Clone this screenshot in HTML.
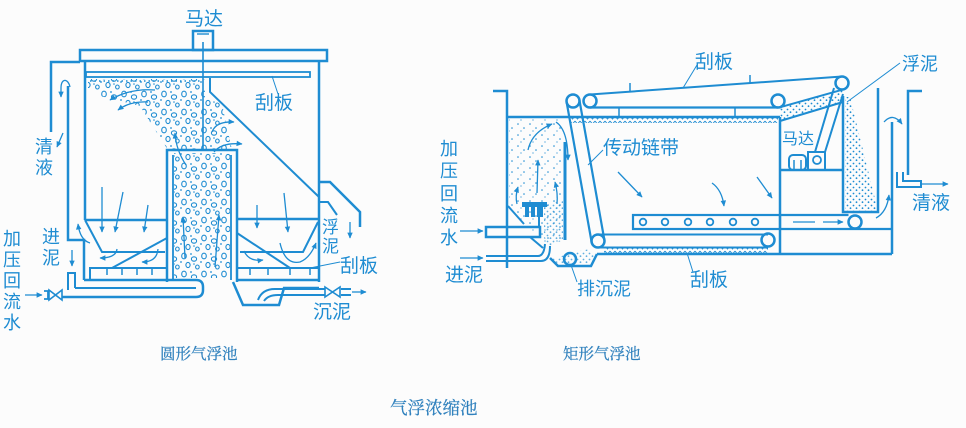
<!DOCTYPE html>
<html><head><meta charset="utf-8">
<style>
html,body{margin:0;padding:0;background:#fcfcfc;}
svg{display:block}
text{font-family:"Liberation Sans","Noto Sans CJK SC",sans-serif;fill:#1e8cd2}
text.cap{font-family:"Liberation Serif","Noto Serif CJK SC",serif;fill:#2f80bd;stroke:#2f80bd;stroke-width:0.25}
</style></head><body>
<svg width="966" height="428" viewBox="0 0 966 428" xmlns="http://www.w3.org/2000/svg">
<defs>
<marker id="ah" viewBox="0 0 10 10" refX="9" refY="5" markerWidth="7" markerHeight="6" orient="auto" markerUnits="userSpaceOnUse"><path d="M0,0.5 L10,5 L0,9.5 z" fill="#1e8cd2"/></marker>
<pattern id="bub" width="20" height="18" patternUnits="userSpaceOnUse">
<g fill="none" stroke="#1e8cd2" stroke-width="1.1">
<ellipse cx="4" cy="4" rx="2.3" ry="2.8"/>
<ellipse cx="14" cy="7" rx="2.6" ry="2.2"/>
<ellipse cx="8" cy="13" rx="2.1" ry="2.6"/>
<ellipse cx="17.4" cy="15" rx="1.8" ry="2"/>
</g>
<g fill="#1e8cd2"><circle cx="11" cy="2" r="0.9"/><circle cx="1" cy="10" r="0.9"/><circle cx="14" cy="12" r="0.8"/></g>
</pattern>
<pattern id="spk" width="12" height="11" patternUnits="userSpaceOnUse">
<g fill="#1e8cd2"><circle cx="2" cy="3" r="0.8"/><circle cx="8" cy="7" r="0.8"/><circle cx="5" cy="10" r="0.6"/></g>
</pattern>
<pattern id="dns" width="6" height="6" patternUnits="userSpaceOnUse">
<g fill="#1e8cd2"><circle cx="1.5" cy="1.5" r="0.9"/><circle cx="4.5" cy="4.2" r="0.9"/></g>
</pattern>
<pattern id="zz" width="5" height="5" patternUnits="userSpaceOnUse">
<path d="M0,1 L2.5,4 L5,1" fill="none" stroke="#1e8cd2" stroke-width="0.9"/>
</pattern>
</defs>

<rect width="966" height="428" fill="#fcfcfc"/>

<!-- ============ LEFT: circular tank ============ -->
<polygon points="88,79 205,79 205,98 222,104 232,150 168,150 152,125 140,106 100,96 88,88" fill="url(#bub)"/>
<rect x="174" y="153" width="56" height="125" fill="url(#bub)"/>
<line x1="90" y1="81" x2="200" y2="81" stroke="#1e8cd2" stroke-width="1.6" stroke-dasharray="1.5 3"/>

<g fill="none" stroke="#1e8cd2" stroke-width="2.5">
<rect x="193" y="31" width="20" height="19"/>
<line x1="197" y1="34" x2="209" y2="34" stroke-width="1.4"/>
<rect x="80" y="50" width="247" height="11"/>
<rect x="86" y="72" width="224" height="5" stroke-width="1.8"/>
<line x1="203" y1="42" x2="203" y2="150" stroke-width="1.6"/>
<path d="M80,62 H51 V132"/>
<path d="M68,86 V240 H84 V280"/>
<path d="M85,61 V220"/>
<path d="M319,61 V282"/>
<path d="M210,78 V92 L319,197" stroke-width="2"/>
<path d="M319,182 H330 L360,212 V227"/>
<path d="M319,202 H328 L337,215" stroke-width="2"/>
<path d="M167,282 V150 H237 V282"/>
<path d="M173,155 V280 M231,155 V280" stroke-width="1.8"/>
<path d="M85,220 H167"/>
<path d="M85,220 L102,252 H165" stroke-width="2"/>
<path d="M112,268 L167,238" stroke-width="2"/>
<path d="M90,280 V268 H167" stroke-width="2"/>
<path d="M107,268 V275 M122,268 V275 M137,268 V275 M152,268 V275" stroke-width="1.5"/>
<path d="M237,219 H319"/>
<path d="M240,252 H303 L318,222" stroke-width="2"/>
<path d="M237,233 L290,268" stroke-width="2"/>
<path d="M237,268 H319" stroke-width="2"/>
<path d="M250,268 V275 M268,268 V275 M290,268 V275 M310,268 V275" stroke-width="1.5"/>
<path d="M237,280 H319"/>
<path d="M84,280 H196 Q203,280 203,287 V290 Q203,297 196,297 H62"/>
<path d="M75,288 H196" stroke-width="2"/>
<path d="M68,290 V273 H75 V288" stroke-width="2"/>
<path d="M233,282 L243,305 H279 L284,288 H319"/>
<path d="M258,300 Q262,289 275,289 H325" stroke-width="2"/>
<path d="M264,301 Q268,295 278,295 H325" stroke-width="2"/>
<path d="M341,289 H351 M341,295 H351" stroke-width="2"/>
<path d="M44,291 H48 V299 H44" stroke-width="1.8"/>
<path d="M49,290 L62,300 L62,290 L49,300 Z" stroke-width="1.6"/>
<path d="M325,287 L340,297 L340,287 L325,297 Z" stroke-width="1.6"/>
</g>

<g fill="none" stroke="#1e8cd2" stroke-width="1.3" marker-end="url(#ah)">
<path d="M70,87 C68,78 61,78 61,88 L61,97"/>
<path d="M63,133 L57,147"/>
<path d="M155,90 Q130,88 110,100"/>
<path d="M148,102 Q130,101 118,110"/>
<path d="M186,165 Q176,150 175,133"/>
<path d="M212,132 Q216,121 234,122"/>
<path d="M214,152 Q222,142 242,144"/>
<path d="M185,258 L183,217"/>
<path d="M215,267 L219,215"/>
<path d="M102,187 L102,232"/>
<path d="M123,192 L115,232"/>
<path d="M148,205 L144,232"/>
<path d="M90,243 Q80,240 78,224"/>
<path d="M117,249 Q116,258 100,258"/>
<path d="M158,249 Q157,262 142,262"/>
<path d="M257,205 L257,228"/>
<path d="M284,193 L288,232"/>
<path d="M244,251 Q249,262 263,260"/>
<path d="M280,243 Q285,265 300,262 Q310,258 316,243"/>
<path d="M72,250 L72,266"/>
<path d="M350,222 L350,238"/>
<path d="M25,295 L42,295"/>
<path d="M352,292 L366,292"/>
</g>
<g stroke="#1e8cd2" stroke-width="1" fill="none">
<path d="M272,76 L278,94"/>
<path d="M310,268 L340,262"/>
</g>

<text x="185" y="25" font-size="19">马达</text>
<text x="255" y="109" font-size="19">刮板</text>
<text x="35" y="153" font-size="18">清</text>
<text x="35" y="174" font-size="18">液</text>
<text x="3" y="245" font-size="18">加</text>
<text x="3" y="266" font-size="18">压</text>
<text x="3" y="287" font-size="18">回</text>
<text x="3" y="308" font-size="18">流</text>
<text x="3" y="329" font-size="18">水</text>
<text x="42" y="243" font-size="18">进</text>
<text x="42" y="264" font-size="18">泥</text>
<text x="322" y="233" font-size="17">浮</text>
<text x="322" y="252" font-size="17">泥</text>
<text x="340" y="272" font-size="19">刮板</text>
<text x="313" y="318" font-size="19">沉泥</text>

<!-- ============ RIGHT: rectangular tank ============ -->
<polygon points="509,119 563,119 563,240 548,246 524,224 509,206" fill="url(#spk)"/>
<polygon points="544,206 563,200 563,240 550,246 544,238" fill="url(#dns)" opacity="0.7"/>
<polygon points="552,259 558,264 590,264 595,255 590,249 575,252" fill="url(#dns)" opacity="0.7"/>
<rect x="570" y="118" width="208" height="5" fill="url(#zz)"/>
<polygon points="779.8,107.3 843.8,89.3 843,102 780,121" fill="url(#dns)"/>
<polygon points="845,97 850,97 876,203 876,211 845,211" fill="url(#dns)"/>
<rect x="604" y="248" width="164" height="5" fill="url(#zz)"/>

<g fill="none" stroke="#1e8cd2" stroke-width="2.5">
<path d="M493,91 H507 V268"/>
<path d="M507,117 H780"/>
<line x1="565" y1="142" x2="565" y2="240" stroke-width="3"/>
<path d="M508,206 L524,224" stroke-width="2"/>
<rect x="486" y="227" width="54" height="10"/>
<path d="M539,217 V227" stroke-width="2"/>
<path d="M530,237 L543,248" stroke-width="2"/>
<path d="M486,256 H538 Q544,256 545,244" stroke-width="2"/>
<path d="M486,261 H541 Q550,261 550,246" stroke-width="2"/>
<path d="M550,258 L558,266 H591 L597,254"/>
<circle cx="573" cy="101" r="6.5"/>
<circle cx="590" cy="101" r="6.5"/>
<circle cx="598" cy="241" r="6.5"/>
<circle cx="768" cy="240" r="6.5"/>
<circle cx="778" cy="101" r="6.5"/>
<circle cx="842" cy="83" r="6.5"/>
<circle cx="855" cy="222" r="6.5"/>
<circle cx="570" cy="259" r="6"/>
<path d="M566.6,102 L591.6,242 M579.4,100 L604.4,240" stroke-width="2.2"/>
<path d="M590,94.5 L842,76.5" stroke-width="2"/>
<path d="M590,107.5 H778" stroke-width="2.2"/>
<path d="M779.8,107.3 L843.8,89.3" stroke-width="2"/>
<path d="M780,121 L843,102" stroke-width="2"/>
<path d="M630,92 V83 M750,84 V75 M619,108 V117 M735,108 V117" stroke-width="1.5"/>
<path d="M598,234.5 H768 M598,247.5 H768" stroke-width="2"/>
<path d="M597,254 H892"/>
<path d="M780,117 V254"/>
<rect x="633" y="215" width="147" height="14" stroke-width="2.2"/>
<path d="M780,215 H848.5 M780,229 H892" stroke-width="2.2"/>
<path d="M843,96 V212 H878 V88"/>
<path d="M892,122 V254"/>
<path d="M922,91 H908 V175"/>
<path d="M897,172 V187 H921 V181 H903 V172" stroke-width="2"/>
<path d="M780,170 H843"/>
<rect x="808" y="152" width="17" height="18" stroke-width="2"/>
<circle cx="817" cy="160" r="4" stroke-width="1.8"/>
<rect x="789" y="155" width="17" height="15" rx="4" stroke-width="2"/>
<path d="M794,160 V170 M801,160 V170" stroke-width="1.5"/>
<path d="M815,152 L834,88 M825,152 L843,94" stroke-width="2"/>
</g>
<g fill="#1e8cd2">
<rect x="522" y="202" width="25" height="5"/>
<rect x="525" y="207" width="4" height="10"/>
<rect x="531" y="207" width="4" height="10"/>
<rect x="537" y="207" width="6" height="10"/>
</g>
<g fill="none" stroke="#1e8cd2" stroke-width="1.8">
<circle cx="643" cy="222" r="3.3"/>
<circle cx="665" cy="222" r="3.3"/>
<circle cx="688" cy="222" r="3.3"/>
<circle cx="710" cy="222" r="3.3"/>
<circle cx="733" cy="222" r="3.3"/>
<circle cx="755" cy="222" r="3.3"/>
</g>

<g fill="none" stroke="#1e8cd2" stroke-width="1.3" marker-end="url(#ah)">
<path d="M460,231 L483,231"/>
<path d="M460,258 L483,258"/>
<path d="M528,150 Q532,132 552,124"/>
<path d="M556,122 Q568,130 568,160"/>
<path d="M537,193 L538,160"/>
<path d="M517,204 Q515,196 518,187"/>
<path d="M557,204 Q558,193 555,182"/>
<path d="M618,172 L642,197"/>
<path d="M712,183 Q722,190 724,206"/>
<path d="M757,177 L772,198"/>
<path d="M884,122 Q893,112 902,124"/>
<path d="M876,218 Q887,212 889,195"/>
<path d="M922,184 L948,184"/>
<path d="M823,222 L843,222"/>
</g>
<path d="M793,222 H815" stroke="#1e8cd2" stroke-width="1.3"/>
<g stroke="#1e8cd2" stroke-width="1" fill="none">
<path d="M697,65 L683,88"/>
<path d="M900,63 L847,102"/>
<path d="M603,150 L588,165"/>
<path d="M571,265 L577,282"/>
<path d="M687,253 L693,272"/>
</g>

<text x="695" y="68" font-size="19">刮板</text>
<text x="902" y="70" font-size="18">浮泥</text>
<text x="782" y="144" font-size="16">马达</text>
<text x="603" y="154" font-size="19">传动链带</text>
<text x="440" y="155" font-size="18">加</text>
<text x="440" y="177" font-size="18">压</text>
<text x="440" y="200" font-size="18">回</text>
<text x="440" y="222" font-size="18">流</text>
<text x="440" y="244" font-size="18">水</text>
<text x="445" y="281" font-size="19">进泥</text>
<text x="577" y="295" font-size="18">排沉泥</text>
<text x="690" y="286" font-size="19">刮板</text>
<text x="912" y="209" font-size="19">清液</text>

<text class="cap" x="160" y="359" font-size="15.5">圆形气浮池</text>
<text class="cap" x="563" y="359" font-size="15.5">矩形气浮池</text>
<text class="cap" x="390" y="414" font-size="17.5">气浮浓缩池</text>
</svg>
</body></html>
